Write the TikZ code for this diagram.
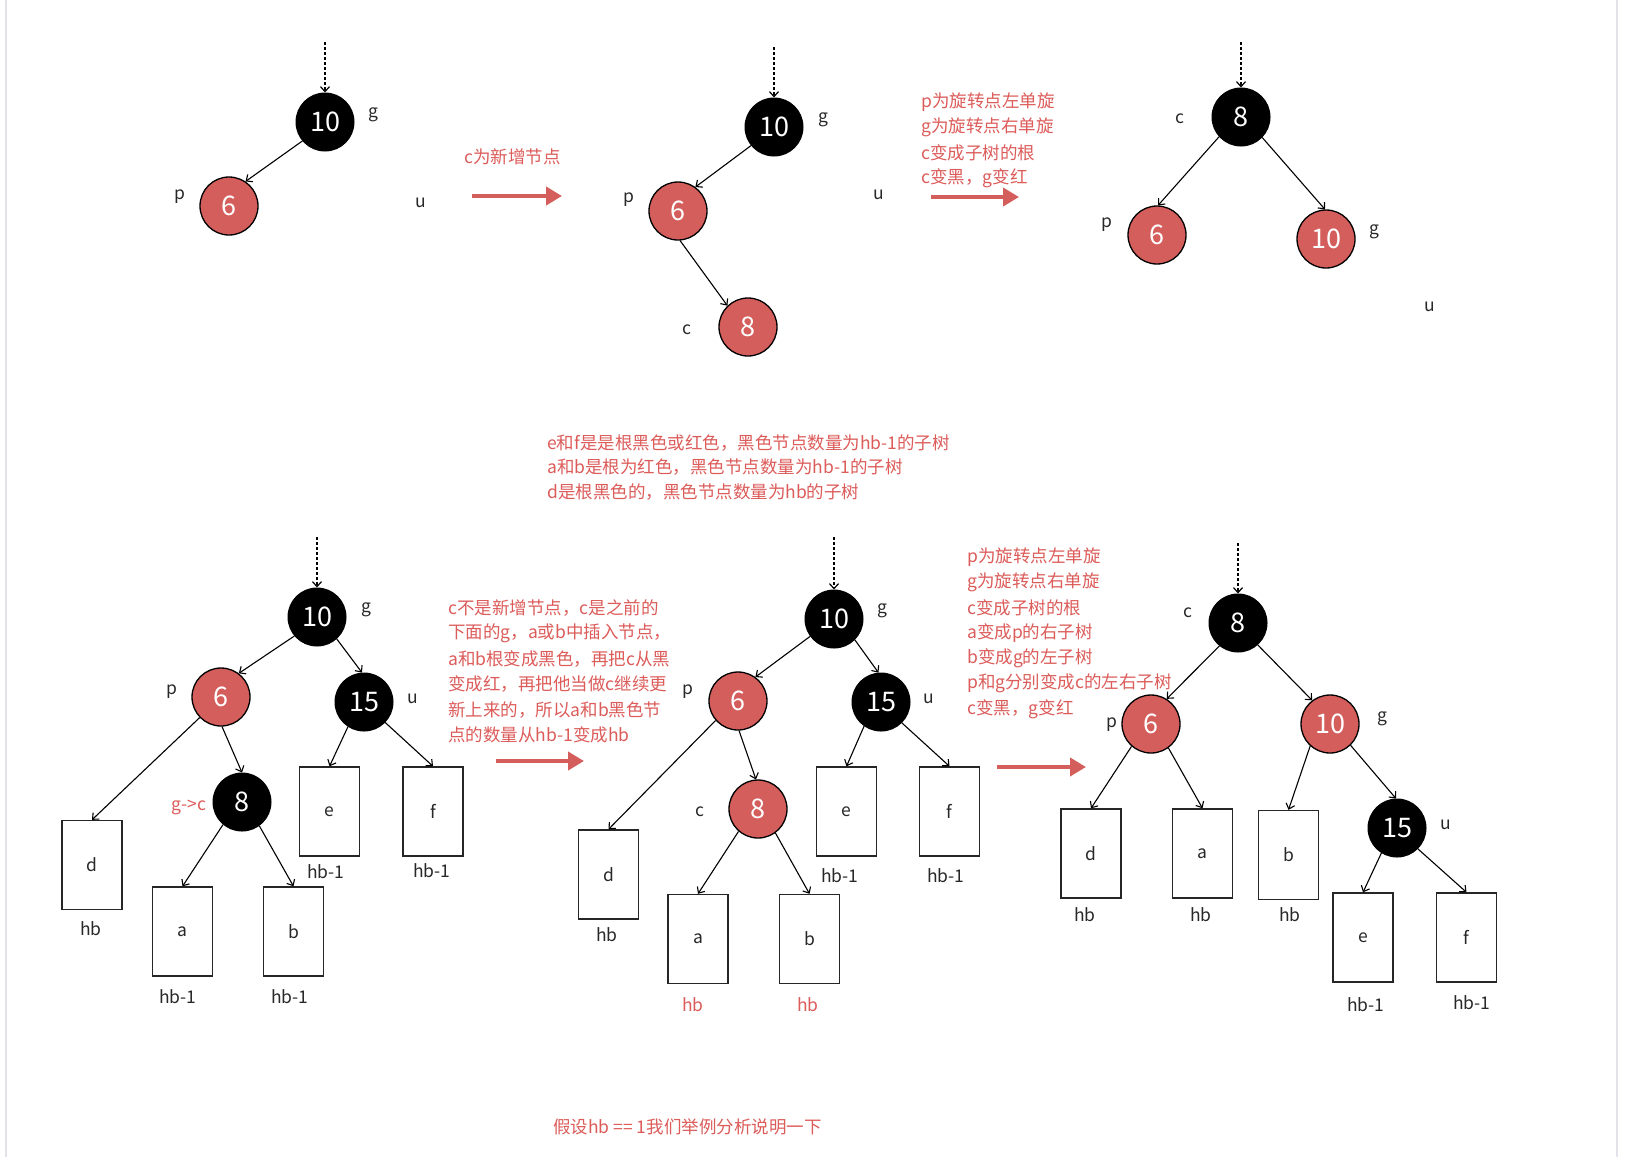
\documentclass[tikz,border=0pt]{standalone}
\usepackage{fontspec}
\setmainfont{Noto Sans CJK SC}
\usetikzlibrary{arrows.meta}
\definecolor{nred}{RGB}{212,94,91}
\definecolor{tred}{RGB}{220,92,90}
\definecolor{lblc}{RGB}{40,40,40}
\definecolor{rulec}{RGB}{226,226,234}
\newcommand\lblfont{\fontsize{17.5}{21}\selectfont}
\newcommand\numfont{\fontsize{27}{30}\selectfont}
\begin{document}
\begin{tikzpicture}[x=1pt,y=-1pt,
 bnode/.style={circle,fill=black,draw=black,line width=1pt,minimum size=58pt,inner sep=0pt,text=white,font=\numfont},
 rnode/.style={circle,fill=nred,draw=black,line width=1.3pt,minimum size=58pt,inner sep=0pt,text=white,font=\numfont},
 lbl/.style={inner sep=0pt,text=lblc,font=\lblfont},
 rlbl/.style={inner sep=0pt,text=tred,font=\lblfont},
 rtxt/.style={inner sep=0pt,text=tred,font=\lblfont,anchor=west},
 subtree/.style={draw=black!85,line width=1.4pt,fill=white,minimum width=60pt,minimum height=89pt,inner sep=0pt,text=lblc,font=\lblfont},
 tedge/.style={line width=1.1pt,-{Straight Barb[length=5pt,width=9pt]}},
 dedge/.style={line width=1.2pt,dash pattern=on 3pt off 2pt,-{Straight Barb[length=5pt,width=9pt]}},
 bigarrow/.style={line width=4pt,draw=nred,-{Triangle[length=16pt,width=18pt]}}
]
\useasboundingbox (0,0) rectangle (1638,1157);
\fill[white] (0,0) rectangle (1638,1157);
\draw[rulec,line width=2pt] (6,0) -- (6,1157);
\draw[rulec,line width=2pt] (1617,0) -- (1617,1157);

% ---------- top left ----------
\node[bnode] (A10) at (325,122) {10};
\node[rnode] (A6) at (229,206) {6};
\coordinate (Atop) at (325,42);
\draw[dedge] (Atop) -- (A10.north);
\draw[tedge] (A10.220) -- (A6.56);
\node[lbl] (Ag) at (373,115) {g};
\node[lbl] (Ap) at (180,197) {p};
\node[lbl] (Au) at (421,203) {u};
\node[rtxt] (At) at (464,157) {c为新增节点};
\coordinate (Aa1) at (472,196);
\coordinate (Aa2) at (562,196);
\draw[bigarrow] (Aa1) -- (Aa2);

% ---------- top middle ----------
\node[bnode] (B10) at (774,127) {10};
\node[rnode] (B6) at (678,211) {6};
\node[rnode] (B8) at (748,327) {8};
\coordinate (Btop) at (774,47);
\draw[dedge] (Btop) -- (B10.north);
\draw[tedge] (B10.219) -- (B6.54);
\draw[tedge] (B6.274) -- (B8.134);
\node[lbl] (Bg) at (823,120) {g};
\node[lbl] (Bp) at (629,200) {p};
\node[lbl] (Bc) at (687,330) {c};
\node[lbl] (Bu) at (879,195) {u};
\foreach \t [count=\i] in {p为旋转点左单旋,g为旋转点右单旋,c变成子树的根,c变黑，g变红}
  \node[rtxt] (Bt\i) at (921,{102+(\i-1)*25.3}) {\t};
\coordinate (Ba1) at (931,197);
\coordinate (Ba2) at (1019,197);
\draw[bigarrow] (Ba1) -- (Ba2);

% ---------- top right ----------
\node[bnode] (C8) at (1241,117) {8};
\node[rnode] (C6) at (1157,235) {6};
\node[rnode] (C10) at (1326,239) {10};
\coordinate (Ctop) at (1241,42);
\draw[dedge] (Ctop) -- (C8.north);
\draw[tedge] (C8.222) -- (C6.88);
\draw[tedge] (C8.316) -- (C10.92);
\node[lbl] (Cc) at (1180,119) {c};
\node[lbl] (Cp) at (1107,225) {p};
\node[lbl] (Cg) at (1374,232) {g};
\node[lbl] (Cu) at (1430,307) {u};

% ---------- middle text ----------
\foreach \t [count=\i] in {e和f是是根黑色或红色，黑色节点数量为hb-1的子树,a和b是根为红色，黑色节点数量为hb-1的子树,d是根黑色的，黑色节点数量为hb的子树}
  \node[rtxt] (Mt\i) at (547,{443+(\i-1)*24.5}) {\t};

% ---------- bottom left ----------
\node[bnode] (D10) at (317,617) {10};
\node[rnode] (D6) at (221,697) {6};
\node[bnode] (D15) at (364,702) {15};
\node[bnode] (D8) at (242,802) {8};
\node[subtree] (Dd) at (92,865) {d};
\node[subtree] (Da) at (182.5,931.5) {a};
\node[subtree] (Db) at (293.5,931.5) {b};
\node[subtree] (De) at (329.5,811.5) {e};
\node[subtree] (Df) at (433,811.5) {f};
\coordinate (Dtop) at (317,537);
\draw[dedge] (Dtop) -- (D10.north);
\draw[tedge] (D10.220) -- (D6.53);
\draw[tedge] (D10.312) -- (D15.94);
\draw[tedge] (D6.224) -- (Dd.north);
\draw[tedge] (D6.272) -- (D8.90);
\draw[tedge] (D8.230) -- (Da.north);
\draw[tedge] (D8.306) -- (Db.north);
\draw[tedge] (D15.237) -- (De.north);
\draw[tedge] (D15.316) -- (Df.north);
\node[lbl] (Dg) at (366,610) {g};
\node[lbl] (Dp) at (172,692) {p};
\node[lbl] (Du) at (413,699) {u};
\node[rlbl] (Dgc) at (189,807) {g->c};
\node[lbl] (Ddh) at (91,929) {hb};
\node[lbl] (Dah) at (178,997) {hb-1};
\node[lbl] (Dbh) at (290,997) {hb-1};
\node[lbl] (Deh) at (326,872) {hb-1};
\node[lbl] (Dfh) at (432,871) {hb-1};
\foreach \t [count=\i] in {c不是新增节点，c是之前的,下面的g，a或b中插入节点，,a和b根变成黑色，再把c从黑,变成红，再把他当做c继续更,新上来的，所以a和b黑色节,点的数量从hb-1变成hb}
  \node[rtxt] (Dt\i) at (448,{608+(\i-1)*25.4}) {\t};
\coordinate (Da1) at (496,761);
\coordinate (Da2) at (584,761);
\draw[bigarrow] (Da1) -- (Da2);

% ---------- bottom middle ----------
\node[bnode] (E10) at (834,619) {10};
\node[rnode] (E6) at (738,701) {6};
\node[bnode] (E15) at (881,702) {15};
\node[rnode] (E8) at (758,809) {8};
\node[subtree] (Ed) at (608.5,874.5) {d};
\node[subtree] (Ea) at (698,939) {a};
\node[subtree] (Eb) at (809.5,939) {b};
\node[subtree] (Ee) at (846.5,811.5) {e};
\node[subtree] (Ef) at (949.5,811.5) {f};
\coordinate (Etop) at (834,537);
\draw[dedge] (Etop) -- (E10.north);
\draw[tedge] (E10.216) -- (E6.54);
\draw[tedge] (E10.315) -- (E15.95);
\draw[tedge] (E6.221) -- (Ed.north);
\draw[tedge] (E6.272) -- (E8.94);
\draw[tedge] (E8.229) -- (Ea.north);
\draw[tedge] (E8.306) -- (Eb.north);
\draw[tedge] (E15.235) -- (Ee.north);
\draw[tedge] (E15.315) -- (Ef.north);
\node[lbl] (Eg) at (882,611) {g};
\node[lbl] (Ep) at (688,692) {p};
\node[lbl] (Eu) at (929,699) {u};
\node[lbl] (Ec) at (700,812) {c};
\node[lbl] (Edh) at (607,935) {hb};
\node[rlbl] (Eah) at (693,1005) {hb};
\node[rlbl] (Ebh) at (808,1005) {hb};
\node[lbl] (Eeh) at (840,876) {hb-1};
\node[lbl] (Efh) at (946,876) {hb-1};
\foreach \t [count=\i] in {p为旋转点左单旋,g为旋转点右单旋,c变成子树的根,a变成p的右子树,b变成g的左子树,p和g分别变成c的左右子树,c变黑，g变红}
  \node[rtxt] (Et\i) at (967,{557+(\i-1)*25.3}) {\t};
\coordinate (Ea1) at (997,767);
\coordinate (Ea2) at (1086,767);
\draw[bigarrow] (Ea1) -- (Ea2);

% ---------- bottom right ----------
\node[bnode] (F8) at (1238,623) {8};
\node[rnode] (F6) at (1151,724) {6};
\node[rnode] (F10) at (1330,724) {10};
\node[bnode] (F15) at (1397,828) {15};
\node[subtree] (Fd) at (1091,853.5) {d};
\node[subtree] (Fa) at (1202.5,853.5) {a};
\node[subtree] (Fb) at (1288.5,855) {b};
\node[subtree] (Fe) at (1363,937.5) {e};
\node[subtree] (Ff) at (1466.5,937.5) {f};
\coordinate (Ftop) at (1238,543);
\draw[dedge] (Ftop) -- (F8.north);
\draw[tedge] (F8.231) -- (F6.58);
\draw[tedge] (F8.312) -- (F10.127);
\draw[tedge] (F6.229) -- (Fd.north);
\draw[tedge] (F6.306) -- (Fa.north);
\draw[tedge] (F10.228) -- (Fb.north);
\draw[tedge] (F10.314) -- (F15.92);
\draw[tedge] (F15.238) -- (Fe.north);
\draw[tedge] (F15.315) -- (Ff.north);
\node[lbl] (Fc) at (1188,613) {c};
\node[lbl] (Fp) at (1112,725) {p};
\node[lbl] (Fg) at (1382,719) {g};
\node[lbl] (Fu) at (1446,825) {u};
\node[lbl] (Fdh) at (1085,915) {hb};
\node[lbl] (Fah) at (1201,915) {hb};
\node[lbl] (Fbh) at (1290,915) {hb};
\node[lbl] (Feh) at (1366,1005) {hb-1};
\node[lbl] (Ffh) at (1472,1003) {hb-1};

% ---------- bottom note ----------
\node[rtxt] (Note) at (553,1127) {假设hb == 1我们举例分析说明一下};
\end{tikzpicture}
\end{document}
